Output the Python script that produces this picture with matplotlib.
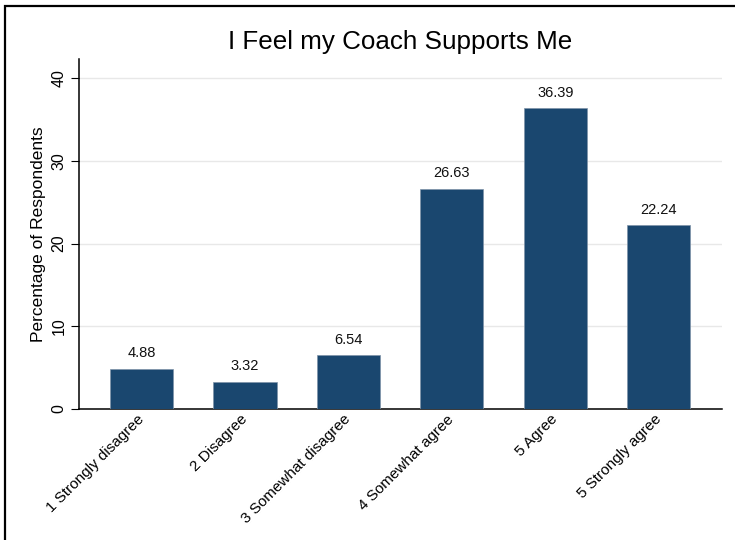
import numpy as np
import matplotlib.pyplot as plt
from matplotlib.patches import Rectangle

plt.rcParams['font.family'] = ['Liberation Sans', 'DejaVu Sans']

categories = ["1 Strongly disagree", "2 Disagree", "3 Somewhat disagree",
              "4 Somewhat agree", "5 Agree", "5 Strongly agree"]
values = [4.88, 3.32, 6.54, 26.63, 36.39, 22.24]
yticks = [0, 10, 20, 30, 40]
title = "I Feel my Coach Supports Me"
ylabel = "Percentage of Respondents"

bar_color = '#1a476f'

fig = plt.figure(figsize=(7.35, 5.4), dpi=100)
ax = fig.add_axes([79 / 735, 1 - 409 / 540, (722 - 79) / 735, (409 - 59) / 540])

x = np.arange(len(categories))
bars = ax.bar(x, values, width=0.61, color=bar_color, edgecolor='#7f93a8',
              linewidth=0.5, zorder=3)

for xi, v in zip(x, values):
    ax.annotate(f"{v:.2f}", (xi, v), xytext=(0, 6), textcoords='offset points',
                ha='center', va='bottom', fontsize=10.5, color='#111111')

ax.set_xlim(-0.604, 5.61)
ax.set_ylim(0, 42.3)
ax.set_yticks(yticks)
ax.set_yticklabels([str(t) for t in yticks], rotation=90, va='center',
                   fontsize=11.5)
ax.set_xticks(x)
ax.set_xticklabels(categories, rotation=45, ha='right', va='center',
                   rotation_mode='anchor', fontsize=11)
ax.tick_params(axis='x', length=0, pad=6)
ax.tick_params(axis='y', length=6, width=0.8, pad=3)

for t in yticks[1:]:
    ax.axhline(t, color='#e8e8e8', linewidth=1, zorder=1)

for s in ['top', 'right']:
    ax.spines[s].set_visible(False)
for s in ['left', 'bottom']:
    ax.spines[s].set_linewidth(1.1)
    ax.spines[s].set_color('black')

ax.set_ylabel(ylabel, fontsize=12.5, labelpad=4)
ax.yaxis.set_label_coords(-33 / 643, 0.5)

fig.text(400 / 735, 1 - 42 / 540, title, ha='center', va='center', fontsize=18.7)

# outer frame (only the top and left edges fall inside the image)
fig.patches.append(Rectangle((5 / 735, -0.1), 1.2, 1.1 - 6 / 540,
                             transform=fig.transFigure, fill=False,
                             edgecolor='black', linewidth=1.6))

fig.savefig('out.png', dpi=100)
